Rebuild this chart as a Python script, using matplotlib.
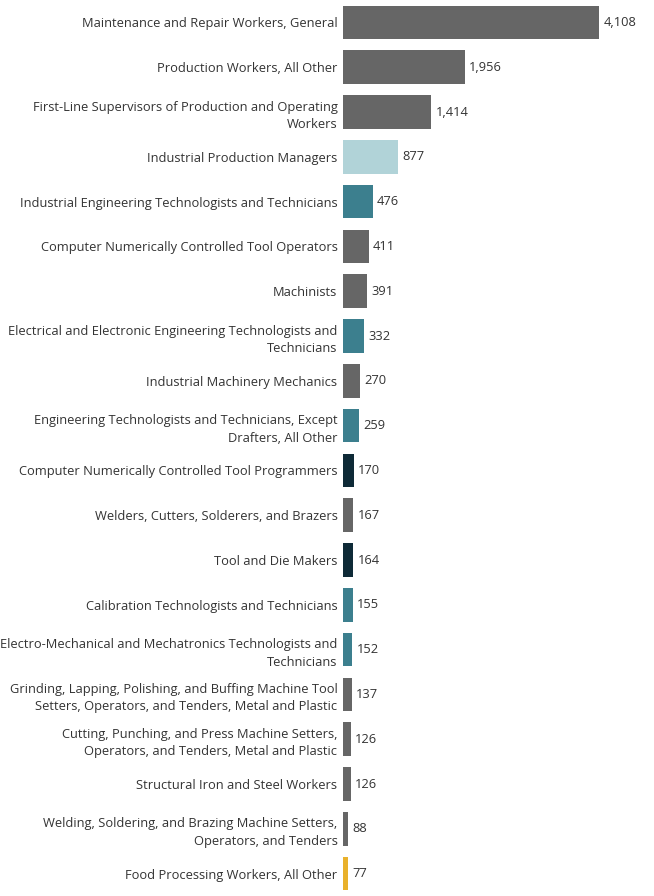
import matplotlib
matplotlib.use("Agg")
import matplotlib.pyplot as plt

occupations = [
    "Maintenance and Repair Workers, General",
    "Production Workers, All Other",
    "First-Line Supervisors of Production and Operating\nWorkers",
    "Industrial Production Managers",
    "Industrial Engineering Technologists and Technicians",
    "Computer Numerically Controlled Tool Operators",
    "Machinists",
    "Electrical and Electronic Engineering Technologists and\nTechnicians",
    "Industrial Machinery Mechanics",
    "Engineering Technologists and Technicians, Except\nDrafters, All Other",
    "Computer Numerically Controlled Tool Programmers",
    "Welders, Cutters, Solderers, and Brazers",
    "Tool and Die Makers",
    "Calibration Technologists and Technicians",
    "Electro-Mechanical and Mechatronics Technologists and\nTechnicians",
    "Grinding, Lapping, Polishing, and Buffing Machine Tool\nSetters, Operators, and Tenders, Metal and Plastic",
    "Cutting, Punching, and Press Machine Setters,\nOperators, and Tenders, Metal and Plastic",
    "Structural Iron and Steel Workers",
    "Welding, Soldering, and Brazing Machine Setters,\nOperators, and Tenders",
    "Food Processing Workers, All Other",
]
counts = [4108, 1956, 1414, 877, 476, 411, 391, 332, 270, 259,
          170, 167, 164, 155, 152, 137, 126, 126, 88, 77]
groups = ["grey", "grey", "grey", "light", "teal", "grey", "grey", "teal", "grey", "teal",
          "navy", "grey", "navy", "teal", "teal", "grey", "grey", "grey", "grey", "yellow"]

palette = {
    "grey": "#666666",
    "light": "#b1d3d8",
    "teal": "#3c7f8e",
    "navy": "#0e2a37",
    "yellow": "#e9b12b",
}

plt.rcParams["font.family"] = ["Open Sans", "DejaVu Sans"]

fig = plt.figure(figsize=(6.54, 8.96), dpi=100)
ax = fig.add_axes([343 / 654, 0.0, 311 / 654, 1.0])

ypos = list(range(len(counts)))
ax.barh(ypos, counts, height=0.75, color=[palette[g] for g in groups])

xmax = 4108 * 311 / 256
ax.set_xlim(0, xmax)
ax.set_ylim(len(counts) - 0.5, -0.5)

for y, v in zip(ypos, counts):
    ax.text(v + xmax * 0.014, y, f"{v:,}", va="center", ha="left",
            fontsize=9.3, color="#333333")

ax.set_yticks(ypos)
ax.set_yticklabels(occupations, fontsize=9.3, color="#333333", linespacing=1.45)
ax.tick_params(axis="y", length=0, pad=4)
ax.set_xticks([])
for side in ax.spines.values():
    side.set_visible(False)

fig.savefig("out.png", dpi=100)
